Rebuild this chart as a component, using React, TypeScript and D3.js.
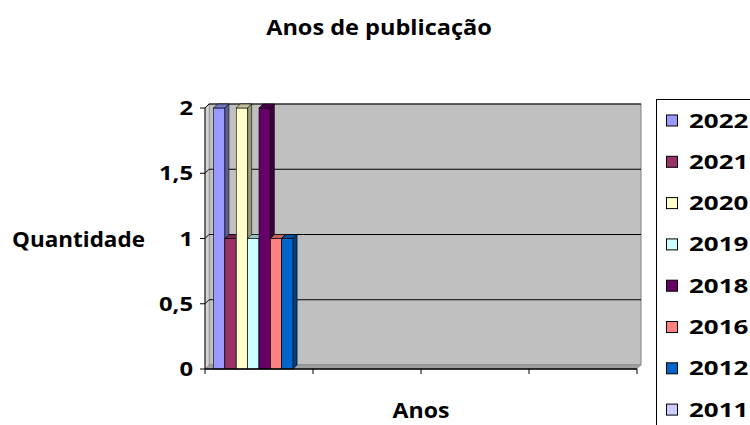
import React from "react";
import * as d3 from "d3";

// ---- data ----
const categorySlots = ["a", "b", "c", "d"]; // four category slots, labels not shown
const seriesNames = ["2022", "2021", "2020", "2019", "2018", "2016", "2012", "2011"];
const seriesValues = [2, 1, 2, 1, 2, 1, 1, 0];
const seriesColors = ["#9999FF", "#993366", "#FFFFCC", "#CCFFFF", "#660066", "#FF8080", "#0066CC", "#CCCCFF"];
const yTicks = [0, 0.5, 1, 1.5, 2];
const yTickLabels = ["0", "0,5", "1", "1,5", "2"];
const titleText = "Anos de publicação";
const yTitle = "Quantidade";
const xTitle = "Anos";

const W = 750, H = 425;
const left = 205, right = 637, bottom = 369, top = 108;
const D = 4;
const FONT = "'Open Sans', 'DejaVu Sans', sans-serif";

function Txt({ x, y, size, sx, anchor = "start", children }: any) {
  return (
    <text
      transform={`translate(${x},${y}) scale(${sx},1)`}
      fontFamily={FONT}
      fontWeight={700}
      fontSize={size}
      textAnchor={anchor}
      fill="#000"
    >
      {children}
    </text>
  );
}

export default function App() {
  const y = d3.scaleLinear().domain([0, 2]).range([bottom, top]);
  const xCat = d3.scaleBand<string>().domain(categorySlots).range([left, right]).padding(0);
  const xSer = d3
    .scaleBand<string>()
    .domain(seriesNames)
    .range([0, xCat.bandwidth()])
    .paddingInner(0)
    .paddingOuter(0.75);
  const bw = xSer.bandwidth();
  const x0 = xCat(categorySlots[0])!;

  const catEdges = categorySlots.map((c) => xCat(c)!).concat([right]);

  return (
    <svg width={W} height={H} style={{ position: "absolute", left: 0, top: 0, background: "#fff" }}>
      {/* back wall */}
      <rect x={left + D} y={top - D} width={right - left} height={bottom - top} fill="#C0C0C0" stroke="#808080" strokeWidth={1} />
      {/* side wall */}
      <polygon
        points={`${left},${bottom} ${left},${top} ${left + D},${top - D} ${left + D},${bottom - D}`}
        fill="#D4D4D4"
        stroke="#909090"
        strokeWidth={0.5}
      />
      {/* floor */}
      <polygon
        points={`${left},${bottom} ${right},${bottom} ${right + D},${bottom - D} ${left + D},${bottom - D}`}
        fill="#A0A0A0"
        stroke="#808080"
        strokeWidth={0.5}
      />
      {/* gridlines */}
      {yTicks.filter((t) => t > 0).map((t) => (
        <polyline
          key={t}
          points={`${left},${y(t)} ${left + D},${y(t) - D} ${right + D},${y(t) - D}`}
          fill="none"
          stroke="#000"
          strokeWidth={1}
        />
      ))}
      {/* bars */}
      {seriesNames.map((s, i) => {
        const v = seriesValues[i];
        if (!v) return null;
        const bx = x0 + xSer(s)!;
        const by = y(v);
        const c = d3.color(seriesColors[i])!;
        const topC = c.darker(0.8).formatHex();
        const sideC = c.darker(1.4).formatHex();
        return (
          <g key={s}>
            <rect x={bx} y={by} width={bw} height={bottom - by} fill={seriesColors[i]} stroke="#000" strokeWidth={0.6} />
            <polygon
              points={`${bx},${by} ${bx + D},${by - D} ${bx + bw + D},${by - D} ${bx + bw},${by}`}
              fill={topC}
              stroke="#000"
              strokeWidth={0.6}
            />
            <polygon
              points={`${bx + bw},${by} ${bx + bw + D},${by - D} ${bx + bw + D},${bottom - D} ${bx + bw},${bottom}`}
              fill={sideC}
              stroke="#000"
              strokeWidth={0.6}
            />
          </g>
        );
      })}
      {/* y axis */}
      <line x1={left} x2={left} y1={bottom} y2={top} stroke="#000" strokeWidth={1} />
      {yTicks.map((t, i) => (
        <g key={t}>
          <line x1={left - 5} x2={left} y1={y(t)} y2={y(t)} stroke="#000" strokeWidth={1} />
          <Txt x={193} y={y(t) + 7} size={20} sx={1.19} anchor="end">
            {yTickLabels[i]}
          </Txt>
        </g>
      ))}
      {/* x axis */}
      <line x1={left} x2={right} y1={bottom} y2={bottom} stroke="#000" strokeWidth={1.5} />
      {catEdges.map((e, i) => (
        <line key={i} x1={e} x2={e} y1={bottom} y2={bottom + 5} stroke="#000" strokeWidth={1} />
      ))}
      {/* titles */}
      <Txt x={379} y={35} size={22} sx={1.07} anchor="middle">{titleText}</Txt>
      <Txt x={78.5} y={247} size={21} sx={1.07} anchor="middle">{yTitle}</Txt>
      <Txt x={421} y={418} size={21} sx={1.1} anchor="middle">{xTitle}</Txt>
      {/* legend */}
      <rect x={656.5} y={99.5} width={120} height={360} fill="#fff" stroke="#000" strokeWidth={1} />
      {seriesNames.map((s, i) => {
        const cy = 120.5 + i * 41.3;
        return (
          <g key={s}>
            <rect x={666.5} y={cy - 5.5} width={11} height={11} fill={seriesColors[i]} stroke="#000" strokeWidth={1} />
            <Txt x={689} y={cy + 7} size={20} sx={1.3}>{s}</Txt>
          </g>
        );
      })}
    </svg>
  );
}
